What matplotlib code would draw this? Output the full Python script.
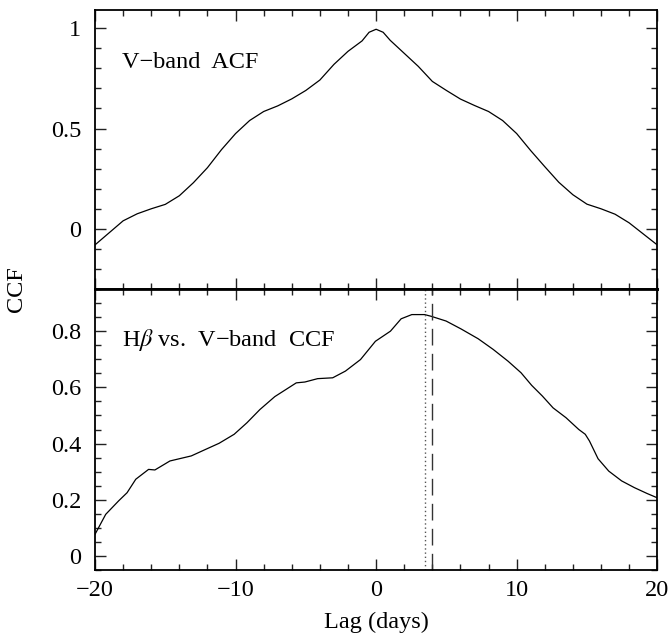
import matplotlib
matplotlib.use("Agg")
import matplotlib.pyplot as plt
from matplotlib.ticker import MultipleLocator, FuncFormatter

plt.rcParams['font.family'] = ['Liberation Serif', 'DejaVu Serif']
plt.rcParams['mathtext.fontset'] = 'stix'

# V-band auto-correlation (top panel)
acf_lag = [-20, -19, -18, -17, -16, -15, -14, -13, -12, -11, -10, -9, -8, -7, -6, -5, -4, -3, -2, -1,
           -0.5, 0, 0.5, 1, 2, 3, 4, 5, 6, 7, 8, 9, 10, 11, 12, 13, 14, 15, 16, 17, 18, 19, 20]
acf_val = [-0.08, -0.02, 0.04, 0.075, 0.10, 0.122, 0.165, 0.23, 0.305, 0.395, 0.475, 0.54, 0.585, 0.613,
           0.648, 0.69, 0.742, 0.82, 0.885, 0.937, 0.98, 0.995, 0.98, 0.94, 0.875, 0.81, 0.735, 0.69,
           0.647, 0.615, 0.585, 0.54, 0.475, 0.39, 0.31, 0.232, 0.17, 0.123, 0.10, 0.073, 0.03,
           -0.025, -0.08]

# H-beta vs V-band cross-correlation (bottom panel)
ccf_lag = [-20, -19.24, -18.32, -17.72, -17.1, -16.19, -15.74, -14.67, -13.15, -12.23, -11.17, -10.1,
           -9.19, -8.27, -7.21, -5.68, -5.07, -4.16, -3.09, -2.18, -1.11, -0.05, 1.02, 1.78, 2.54,
           3.45, 3.91, 4.98, 6.04, 7.26, 8.33, 9.39, 10.31, 11.07, 11.83, 12.59, 13.51, 14.42, 14.88,
           15.18, 15.79, 16.55, 17.47, 18.38, 19.29, 20]
ccf_val = [0.077, 0.148, 0.196, 0.225, 0.273, 0.308, 0.306, 0.338, 0.356, 0.377, 0.401, 0.433,
           0.474, 0.521, 0.567, 0.616, 0.619, 0.631, 0.634, 0.658, 0.699, 0.764, 0.80, 0.844, 0.859,
           0.859, 0.853, 0.836, 0.808, 0.773, 0.735, 0.693, 0.652, 0.607, 0.569, 0.527, 0.492, 0.45,
           0.433, 0.409, 0.346, 0.302, 0.267, 0.243, 0.222, 0.207]

centroid_lag = 3.5   # dotted
peak_lag = 4.0       # dashed

FS = 17.5

fig = plt.figure(figsize=(6.72, 6.38), dpi=100)
ax1 = fig.add_axes([0.1414, 0.547, 0.8366, 0.437])
ax2 = fig.add_axes([0.1414, 0.1066, 0.8366, 0.4404], sharex=ax1)

ax1.plot(acf_lag, acf_val, color='black', lw=0.9)
ax2.plot(ccf_lag, ccf_val, color='black', lw=0.9)
ax2.axvline(centroid_lag, color='#555555', lw=1.0, ls=(0, (1, 2)))
ax2.axvline(peak_lag, color='#333333', lw=1.0, ls=(0, (12, 6)))

ax1.set_xlim(-20, 20)
ax1.set_ylim(-0.3, 1.09)
ax2.set_ylim(-0.05, 0.95)

ax1.xaxis.set_major_locator(MultipleLocator(10))
ax1.xaxis.set_minor_locator(MultipleLocator(2))
ax1.yaxis.set_major_locator(MultipleLocator(0.5))
ax1.yaxis.set_minor_locator(MultipleLocator(0.1))
ax2.yaxis.set_major_locator(MultipleLocator(0.2))
ax2.yaxis.set_minor_locator(MultipleLocator(0.05))

fmt = FuncFormatter(lambda v, p: f"{v:g}".replace('-', '\u2212'))
ax1.yaxis.set_major_formatter(fmt)
ax2.yaxis.set_major_formatter(fmt)

for ax in (ax1, ax2):
    ax.tick_params(which='both', direction='in', top=True, right=True, labelsize=FS, color='#222222')
    ax.tick_params(which='major', length=8, width=1.0)
    ax.tick_params(which='minor', length=4.5, width=1.0)
    ax.tick_params(axis='y', which='major', pad=10)
    ax.tick_params(axis='x', which='major', pad=7)
    for s in ax.spines.values():
        s.set_linewidth(1.3)
ax1.tick_params(labelbottom=False)
ax1.spines['bottom'].set_linewidth(2)
ax2.spines['top'].set_linewidth(2)

ax1.text(-18.1, 0.83, "V\u2212band  ACF", fontsize=FS, va='center', ha='left')
ax2.text(-18.1, 0.77, "H$\\beta$ vs.  V\u2212band  CCF", fontsize=FS, va='center', ha='left')

ax2.set_xlabel("Lag (days)", fontsize=FS, labelpad=8)
fig.text(0.025, 0.547, "CCF", rotation=90, fontsize=FS, va='center', ha='center')

fig.savefig("out.png", dpi=100)
